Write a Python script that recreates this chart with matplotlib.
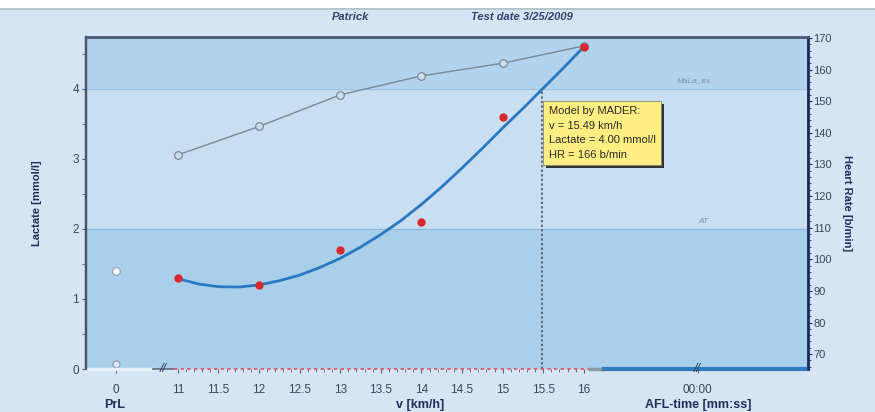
import matplotlib.pyplot as plt
import matplotlib.patches as mpatches
import matplotlib.patheffects as pe
import numpy as np

plt.rcParams['font.family'] = ['Liberation Sans', 'DejaVu Sans']

# measured points
speed = [11, 12, 13, 14, 15, 16]
lactate = [1.3, 1.2, 1.7, 2.1, 3.6, 4.6]
heart_rate = [133, 142, 152, 158, 162, 167.5]

# rest values (PrL)
rest_lactate = 1.4
rest_hr = 67

# Mader model curve
model_v = [11.0, 11.25, 11.5, 11.75, 12.0, 12.25, 12.5, 12.75, 13.0, 13.25, 13.5,
           13.75, 14.0, 14.25, 14.5, 14.75, 15.0, 15.25, 15.5, 15.75, 16.0]
model_lac = [1.29, 1.215, 1.175, 1.17, 1.20, 1.26, 1.34, 1.45, 1.58, 1.74, 1.92,
             2.12, 2.35, 2.60, 2.87, 3.15, 3.44, 3.72, 4.01, 4.30, 4.60]

mader_v, mader_lac, mader_hr = 15.49, 4.00, 166
at_level, mader_level = 2.0, 4.0

xticks_v = [11, 11.5, 12, 12.5, 13, 13.5, 14, 14.5, 15, 15.5, 16]
hr_ticks = [70, 80, 90, 100, 110, 120, 130, 140, 150, 160, 170]

PRL_X = 10.24   # where the PrL column sits on the speed axis
AFL_X = 17.4    # where the AFL-time column sits
navy = '#1f2d5c'
tick_col = '#3a4560'

fig = plt.figure(figsize=(8.75, 4.12), dpi=100, facecolor='white')
fig.patches.append(mpatches.Rectangle((0, 0), 1, 1 - 10 / 412, transform=fig.transFigure,
                                      facecolor='#d5e5f3', edgecolor='none', zorder=-10))
fig.patches.append(mpatches.Rectangle((0, 1 - 10 / 412), 1, 0.004, transform=fig.transFigure,
                                      facecolor='#b8c4cc', edgecolor='none', zorder=-9))

ax = fig.add_axes([86 / 875, 1 - 369 / 412, 722 / 875, 332 / 412])
ax.set_xlim(9.87, 18.76)
ax.set_ylim(0, 4.74)
ax.set_facecolor('#c8def1')
ax2 = ax.twinx()
ax2.set_ylim(65.3, 170.3)

# zones
ax.axhspan(0, at_level, color='#aacfeb', zorder=0)
ax.axhspan(mader_level, 4.74, color='#b2d3ee', zorder=0)
ax.axhline(at_level, color='#8fb8db', lw=0.8, zorder=1)
ax.axhline(mader_level, color='#9fc3e2', lw=0.8, zorder=1)
ax.text(17.47, at_level + 0.06, 'AT', fontsize=6, style='italic', color='#7f8fa0', ha='center', va='bottom')
ax.text(17.35, mader_level + 0.06, 'MaLa_ex', fontsize=6, style='italic', color='#7f8fa0', ha='center', va='bottom')

# heart rate, drawn in the lactate axes using the right axis scale
ax.plot(speed, heart_rate, color='#7d8894', lw=1.0, marker='o', ms=5.5,
        mfc='#c8def1', mec='#7d8894', mew=0.9, zorder=3, transform=ax2.transData)
ax.plot([PRL_X], [rest_hr], 'o', ms=5, mfc='#dde9f4', mec='#8aa0b8', mew=0.9, zorder=3,
        transform=ax2.transData, clip_on=False)

# lactate curve and points
ax.plot(model_v, model_lac, color='#2a78c0', lw=2.0, zorder=4, solid_joinstyle='round')
ax.plot(speed, lactate, 'o', ms=5, color='#d8272e', zorder=5, clip_on=False)
ax.plot([PRL_X], [rest_lactate], 'o', ms=5.5, mfc='white', mec='#9aa5b0', mew=0.9, zorder=5)
ax.vlines(mader_v, 0, mader_lac, colors='#404a5a', linestyles=(0, (1.5, 1.5)), lw=1.1, zorder=4)

box = ax.text(mader_v + 0.08, 3.75,
              'Model by MADER:\nv = %.2f km/h\nLactate = %.2f mmol/l\nHR = %d b/min' % (mader_v, mader_lac, mader_hr),
              fontsize=8, color='#2a2a2a', va='top', ha='left', linespacing=1.55, zorder=6,
              bbox=dict(boxstyle='square,pad=0.5', fc='#ffef82', ec='#8a8a6a', lw=0.6))
box.get_bbox_patch().set_path_effects([pe.withSimplePatchShadow(offset=(2, -2), shadow_rgbFace='#202020', alpha=0.9)])

# bottom axis pieces
ax.spines['bottom'].set_visible(False)
ax.plot([9.87, 10.7], [0, 0], color='#e8eef4', lw=2.5, clip_on=False, zorder=6)
ax.plot([10.7, 10.95], [0, 0], color='#5a6a80', lw=1.2, clip_on=False, zorder=6)
ax.plot([10.95, 16.08], [0, 0], color='#e05060', lw=1.2, ls=(0, (2, 2)), clip_on=False, zorder=6)
ax.plot([16.08, 16.25], [0, 0], color='#8a9aa8', lw=2.5, clip_on=False, zorder=6)
ax.plot([16.25, 18.76], [0, 0], color='#2f7cc0', lw=3, clip_on=False, zorder=6)
for bx in [10.82, AFL_X]:
    ax.text(bx, 0, '//', fontsize=9, style='italic', color='#2a3a55', ha='center', va='center',
            clip_on=False, zorder=7)

ax.set_xticks([PRL_X] + xticks_v + [AFL_X])
ax.set_xticklabels(['0'] + ['%g' % t for t in xticks_v] + ['00:00'])
ax.set_xticks(np.arange(11, 16.01, 0.1), minor=True)
ax.tick_params(axis='x', which='both', direction='out', length=3, color='#5a6070',
               labelsize=8.5, labelcolor=tick_col, pad=8)
ax.tick_params(axis='x', which='minor', length=2)

ax.set_yticks([0, 1, 2, 3, 4])
ax.set_yticks([0.5, 1.5, 2.5, 3.5, 4.5], minor=True)
ax.tick_params(axis='y', which='both', direction='out', length=3, color='#505868',
               labelsize=8.5, labelcolor=tick_col, pad=2)
ax2.set_yticks(hr_ticks)
ax2.set_yticks(np.arange(66, 171, 2), minor=True)
ax2.tick_params(axis='y', which='major', direction='out', length=3, color=navy,
                labelsize=8, labelcolor=tick_col, pad=1)
ax2.tick_params(axis='y', which='minor', direction='out', length=2, color=navy)

for a in (ax, ax2):
    a.spines['bottom'].set_visible(False)
    a.spines['left'].set_color('#4a5566')
    a.spines['left'].set_linewidth(1.6)
    a.spines['top'].set_color('#4a5a78')
    a.spines['top'].set_linewidth(1.8)
    a.spines['right'].set_color(navy)
    a.spines['right'].set_linewidth(1.8)

ax.set_ylabel('Lactate [mmol/l]', fontsize=8, fontweight='bold', color=navy, labelpad=22)
ax2.set_ylabel('Heart Rate [b/min]', fontsize=8, fontweight='bold', color=navy,
               rotation=-90, labelpad=14)

fig.text(115 / 875, 1 - 405 / 412, 'PrL', fontsize=9, fontweight='bold', color=navy, ha='center', va='center')
fig.text(420 / 875, 1 - 405 / 412, 'v [km/h]', fontsize=9, fontweight='bold', color=navy, ha='center', va='center')
fig.text(698 / 875, 1 - 405 / 412, 'AFL-time [mm:ss]', fontsize=9, fontweight='bold', color=navy, ha='center', va='center')

fig.text(350 / 875, 1 - 17 / 412, 'Patrick', fontsize=8, fontweight='bold', style='italic', color='#34406e',
         ha='center', va='center')
fig.text(522 / 875, 1 - 17 / 412, 'Test date 3/25/2009', fontsize=8, fontweight='bold', style='italic',
         color='#34406e', ha='center', va='center')

fig.savefig('out.png', dpi=100, facecolor=fig.get_facecolor())
